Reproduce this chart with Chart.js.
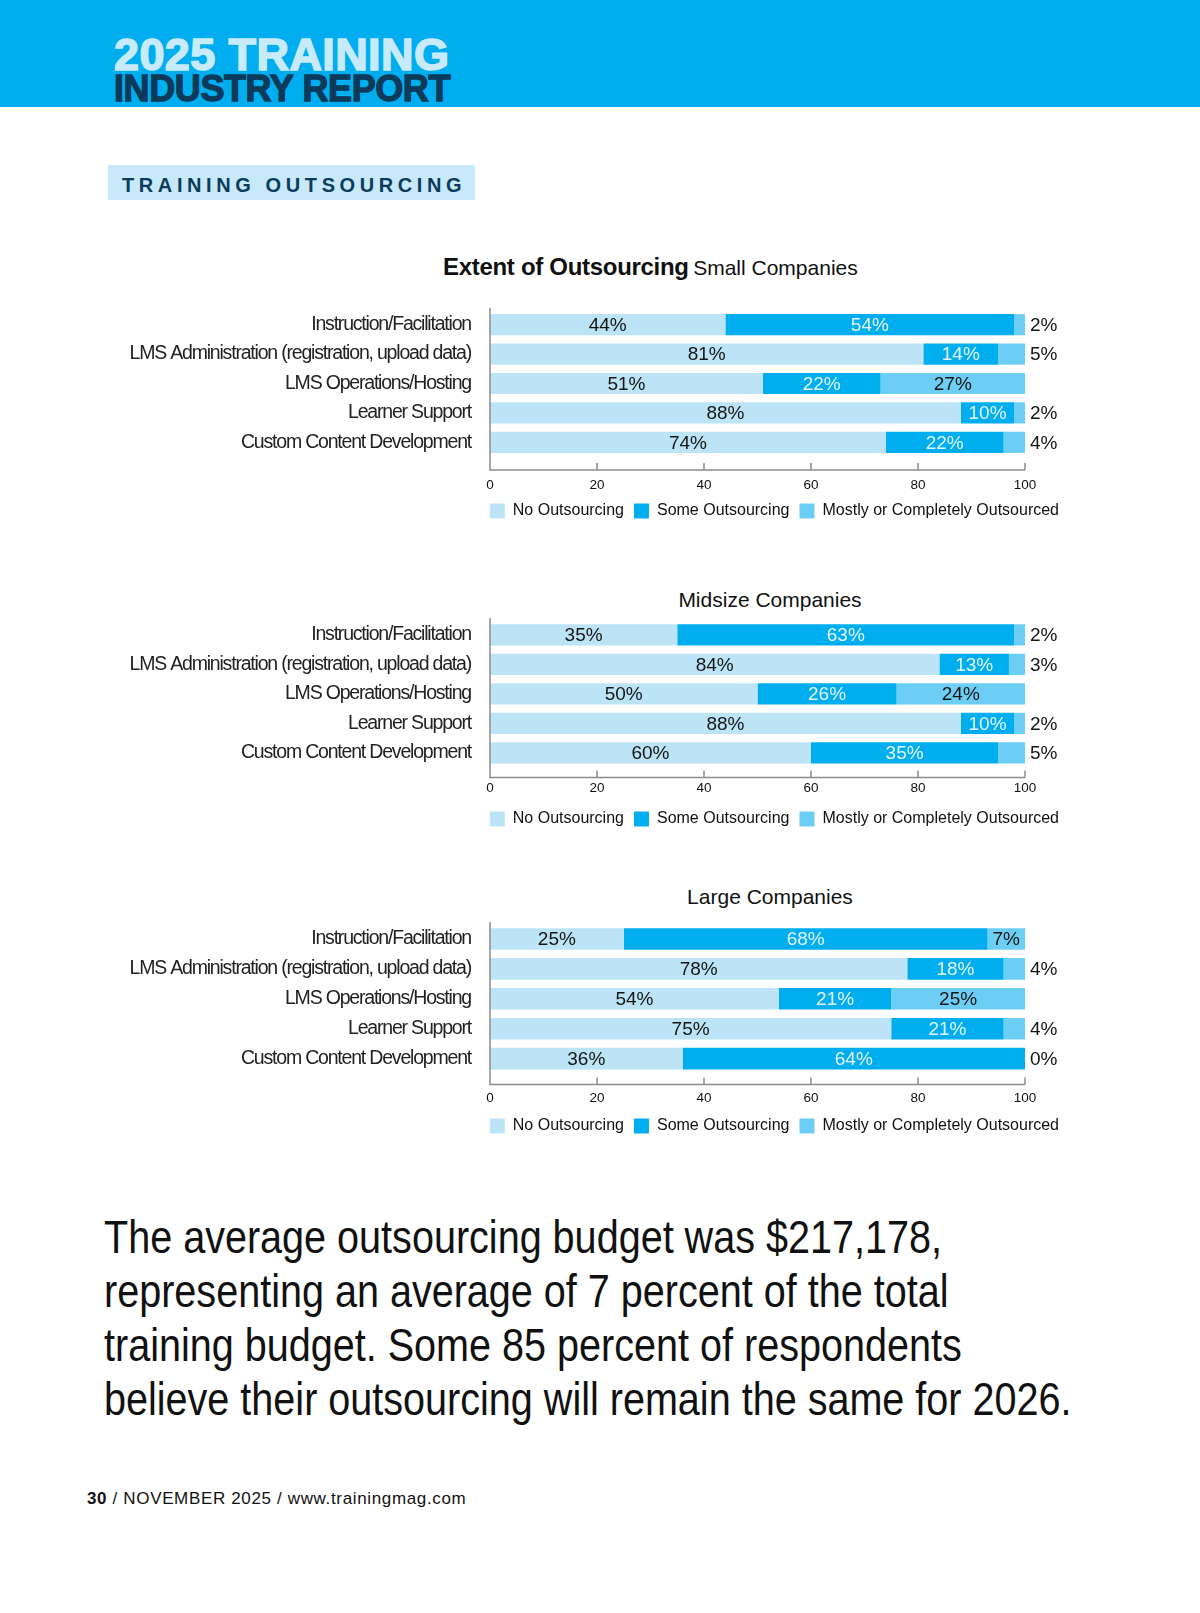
<!DOCTYPE html>
<html>
<head>
<meta charset="utf-8">
<title>Training Outsourcing</title>
<script src="https://cdn.jsdelivr.net/npm/chart.js@4.4.1/dist/chart.umd.min.js"></script>
<style>
  body { margin: 0; width: 1200px; height: 1613px; background: #fff; position: relative; overflow: hidden;
         font-family: 'Liberation Sans', Arial, sans-serif; color: #111; }
  .band { position: absolute; left: 0; top: 0; width: 1200px; height: 107px; background: #00aeef; }
  .h1, .h2 { position: absolute; left: 114px; font-weight: 700; white-space: nowrap; }
  .h1 { top: 32px; font-size: 45px; line-height: 45px; color: #c7ebfb; -webkit-text-stroke: 1.6px #c7ebfb; letter-spacing: 0.4px; }
  .h2 { top: 71px; font-size: 36px; line-height: 36px; color: #0b3a5a; -webkit-text-stroke: 1.3px #0b3a5a; letter-spacing: -0.4px; }
  .tag { position: absolute; left: 108px; top: 165px; width: 367px; height: 35px; background: #c8e9f9; }
  .tag span { position: absolute; left: 14px; top: 3px; line-height: 35px; font-size: 20px; font-weight: 700;
              letter-spacing: 4.6px; color: #0c3c5c; white-space: nowrap; }
  .ctitle { position: absolute; white-space: nowrap; line-height: 30px; color: #111; }
  .ctitle b { font-size: 24px; letter-spacing: -0.3px; }
  .ctitle span { font-size: 21px; }
  .sub { font-size: 21px; width: 400px; left: 570px; text-align: center; }
  .wrap { position: absolute; left: 0; width: 1100px; }
  .para { position: absolute; left: 104px; top: 1210px; font-size: 46px; line-height: 54px; color: #111;
          white-space: nowrap; transform: scaleX(0.86); transform-origin: 0 0; }
  .foot { position: absolute; left: 87px; top: 1489px; font-size: 17px; line-height: 20px; letter-spacing: 0.65px; color: #111; white-space: nowrap; }
</style>
</head>
<body>
<div class="band"></div>
<div class="h1">2025 TRAINING</div>
<div class="h2">INDUSTRY REPORT</div>
<div class="tag"><span>TRAINING OUTSOURCING</span></div>

<div class="ctitle" style="left:443px; top:252px;"><b>Extent of Outsourcing</b> <span>Small Companies</span></div>
<div class="ctitle sub" style="top:585px;">Midsize Companies</div>
<div class="ctitle sub" style="top:882px;">Large Companies</div>

<div class="wrap" style="top:290px; height:239px;"><canvas id="smallChart"></canvas></div>
<div class="wrap" style="top:600px; height:237px;"><canvas id="midChart"></canvas></div>
<div class="wrap" style="top:904px; height:240px;"><canvas id="largeChart"></canvas></div>

<div class="para">The average outsourcing budget was $217,178,<br>representing an average of 7 percent of the total<br>training budget. Some 85 percent of respondents<br>believe their outsourcing will remain the same for 2026.</div>
<div class="foot"><b>30</b> / NOVEMBER 2025 / www.trainingmag.com</div>

<script>
const categories = ['Instruction/Facilitation', 'LMS Administration (registration, upload data)', 'LMS Operations/Hosting', 'Learner Support', 'Custom Content Development'];
const seriesNames = ['No Outsourcing', 'Some Outsourcing', 'Mostly or Completely Outsourced'];
const seriesColors = ['#bde4f6', '#00aeef', '#6dcef5'];
const xTicks = [0, 20, 40, 60, 80, 100];

const smallNo = [44, 81, 51, 88, 74];
const smallSome = [54, 14, 22, 10, 22];
const smallMostly = [2, 5, 27, 2, 4];

const midNo = [35, 84, 50, 88, 60];
const midSome = [63, 13, 26, 10, 35];
const midMostly = [2, 3, 24, 2, 5];

const largeNo = [25, 78, 54, 75, 36];
const largeSome = [68, 18, 21, 21, 64];
const largeMostly = [7, 4, 25, 4, 0];

// axis line + tick marks + percentage labels on the bars
const barExtras = {
    id: 'barExtras',
    afterDatasetsDraw(chart, args, opts) {
        const ctx = chart.ctx;
        const xs = chart.scales.x;
        const area = chart.chartArea;
        const axisY = area.bottom + opts.axisGap;
        ctx.save();
        ctx.strokeStyle = '#8c8c8c';
        ctx.lineWidth = 1.5;
        ctx.beginPath();
        ctx.moveTo(area.left, area.top - 2);
        ctx.lineTo(area.left, axisY);
        ctx.lineTo(area.right, axisY);
        xs.ticks.forEach(t => {
            if (t.value === 0) return;
            const px = xs.getPixelForValue(t.value);
            ctx.moveTo(px, axisY);
            ctx.lineTo(px, axisY - 7);
        });
        ctx.stroke();

        ctx.font = '19px "Liberation Sans", Arial, sans-serif';
        ctx.textBaseline = 'middle';
        chart.data.datasets.forEach((ds, di) => {
            const meta = chart.getDatasetMeta(di);
            meta.data.forEach((bar, i) => {
                const v = ds.data[i];
                const text = v + '%';
                if (di === 2 && v < 6) {
                    ctx.textAlign = 'left';
                    ctx.fillStyle = '#151515';
                    ctx.fillText(text, bar.x + 5, bar.y + 1);
                } else {
                    ctx.textAlign = 'center';
                    ctx.fillStyle = di === 1 ? '#e2f5fd' : '#151515';
                    ctx.fillText(text, (bar.x + bar.base) / 2, bar.y + 1);
                }
            });
        });
        ctx.restore();
        // the category labels (drawn next, z = 1) are set tight
        ctx.letterSpacing = '-1.2px';
    },
    afterDraw(chart) {
        chart.ctx.letterSpacing = '0px';
    }
};

function makeChart(id, no, some, mostly, axisGap, xHeight, tickPad) {
    const values = [no, some, mostly];
    return new Chart(document.getElementById(id), {
        type: 'bar',
        data: {
            labels: categories,
            datasets: values.map((data, k) => ({
                label: seriesNames[k],
                data: data,
                backgroundColor: seriesColors[k],
                borderWidth: 0,
                categoryPercentage: 1,
                barPercentage: 0.72
            }))
        },
        options: {
            indexAxis: 'y',
            responsive: true,
            maintainAspectRatio: false,
            animation: false,
            layout: { padding: { top: 20, right: 31, bottom: 0, left: 0 } },
            plugins: {
                tooltip: { enabled: false },
                legend: {
                    position: 'bottom',
                    align: 'end',
                    labels: {
                        boxWidth: 15, boxHeight: 15, padding: 10, color: '#111',
                        font: { size: 16, family: '"Liberation Sans", Arial, sans-serif' }
                    }
                },
                barExtras: { axisGap: axisGap }
            },
            scales: {
                x: {
                    stacked: true, min: 0, max: 100,
                    grid: { display: false, drawTicks: false }, border: { display: false },
                    afterBuildTicks: s => { s.ticks = xTicks.map(v => ({ value: v })); },
                    afterFit: s => { s.height = xHeight; },
                    ticks: { padding: tickPad, color: '#111', maxRotation: 0,
                             font: { size: 13.5, family: '"Liberation Sans", Arial, sans-serif' } }
                },
                y: {
                    stacked: true,
                    grid: { display: false, drawTicks: false }, border: { display: false },
                    afterFit: s => { s.width = 490; s.paddingTop = 0; s.paddingBottom = 0; },
                    ticks: { padding: 19, color: '#222', z: 1,
                             font: { size: 19.5, family: '"Liberation Sans", Arial, sans-serif' } }
                },
                y2: {
                    position: 'right', type: 'linear',
                    grid: { display: false, drawTicks: false }, border: { display: false },
                    ticks: { display: false },
                    afterFit: s => { s.width = 44; }
                }
            }
        },
        plugins: [barExtras]
    });
}

makeChart('smallChart', smallNo, smallSome, smallMostly, 13, 36, 20);
makeChart('midChart', midNo, midSome, midMostly, 10, 33.4, 13);
makeChart('largeChart', largeNo, largeSome, largeMostly, 11, 34.4, 17);
</script>
</body>
</html>
